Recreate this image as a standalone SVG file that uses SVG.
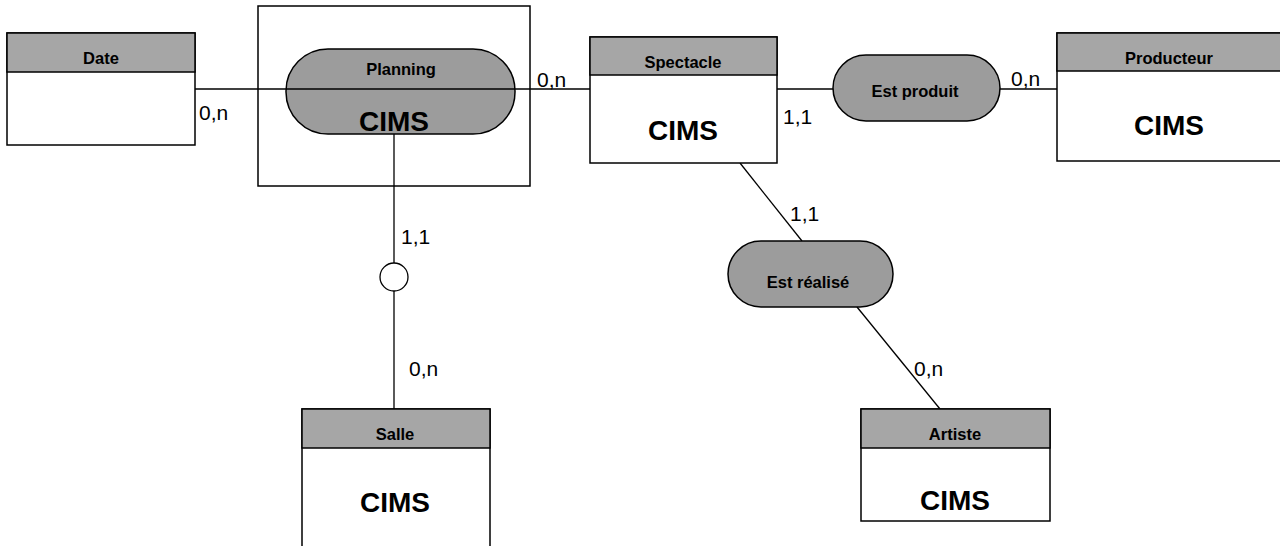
<svg xmlns="http://www.w3.org/2000/svg" width="1280" height="546" viewBox="0 0 1280 546">
<style>
.box{fill:#fff;stroke:#000;stroke-width:1.5}
.hdr{fill:#a6a6a6;stroke:#000;stroke-width:1.5}
.rel{fill:#9c9c9c;stroke:#000;stroke-width:1.5}
.ln{stroke:#000;stroke-width:1.3;fill:none}
.h{font-family:"Liberation Sans",Arial,sans-serif;font-weight:bold;font-size:16.5px;text-anchor:middle;fill:#000}
.big{font-family:"Liberation Sans",Arial,sans-serif;font-weight:bold;font-size:28px;text-anchor:middle;fill:#000}
.c{font-family:"Liberation Sans",Arial,sans-serif;font-size:21px;fill:#000}
</style>
<rect width="1280" height="546" fill="#fff"/>
<g id="connectors">
<line class="ln" x1="195" y1="89" x2="590" y2="89"/>
<line class="ln" x1="777" y1="89" x2="1057" y2="89"/>
<line class="ln" x1="394" y1="134" x2="394" y2="263"/>
<line class="ln" x1="394" y1="291" x2="394" y2="409"/>
<line class="ln" x1="740" y1="163" x2="802" y2="241"/>
<line class="ln" x1="857" y1="307" x2="940" y2="409"/>
<circle id="cif" cx="394" cy="277" r="14" fill="#fff" stroke="#000" stroke-width="1.3"/>
<text class="c" x="199" y="120">0,n</text>
<text class="c" x="537" y="87">0,n</text>
<text class="c" x="783" y="124">1,1</text>
<text class="c" x="1011" y="86">0,n</text>
<text class="c" x="401" y="244">1,1</text>
<text class="c" x="409" y="376">0,n</text>
<text class="c" x="790" y="221">1,1</text>
<text class="c" x="914" y="376">0,n</text>
</g>
<g id="date">
<rect class="box" x="7" y="33" width="188" height="112"/>
<rect class="hdr" x="7" y="33" width="188" height="39"/>
<text class="h" x="101" y="64">Date</text>
</g>
<g id="planning">
<rect x="258" y="6" width="272" height="180" fill="none" stroke="#000" stroke-width="1.5"/>
<rect class="rel" x="286" y="49" width="229" height="85" rx="42" ry="42"/>
<line class="ln" x1="286" y1="89" x2="515" y2="89"/>
<text class="h" x="401" y="75">Planning</text>
<text class="big" x="394" y="131">CIMS</text>
</g>
<g id="spectacle">
<rect class="box" x="590" y="37" width="187" height="126"/>
<rect class="hdr" x="590" y="37" width="187" height="38"/>
<text class="h" x="683" y="68">Spectacle</text>
<text class="big" x="683" y="140">CIMS</text>
</g>
<g id="est-produit">
<rect class="rel" x="833" y="55" width="167" height="66" rx="33" ry="33"/>
<text class="h" x="915" y="97">Est produit</text>
</g>
<g id="producteur">
<rect class="box" x="1057" y="33" width="230" height="128"/>
<rect class="hdr" x="1057" y="33" width="230" height="38"/>
<text class="h" x="1169" y="64">Producteur</text>
<text class="big" x="1169" y="135">CIMS</text>
</g>
<g id="est-realise">
<rect class="rel" x="728" y="241" width="165" height="66" rx="33" ry="33"/>
<text class="h" x="808" y="288">Est réalisé</text>
</g>
<g id="salle">
<rect class="box" x="302" y="409" width="188" height="150"/>
<rect class="hdr" x="302" y="409" width="188" height="39"/>
<text class="h" x="395" y="440">Salle</text>
<text class="big" x="395" y="512">CIMS</text>
</g>
<g id="artiste">
<rect class="box" x="861" y="409" width="189" height="112"/>
<rect class="hdr" x="861" y="409" width="189" height="39"/>
<text class="h" x="955" y="440">Artiste</text>
<text class="big" x="955" y="510">CIMS</text>
</g>
</svg>
